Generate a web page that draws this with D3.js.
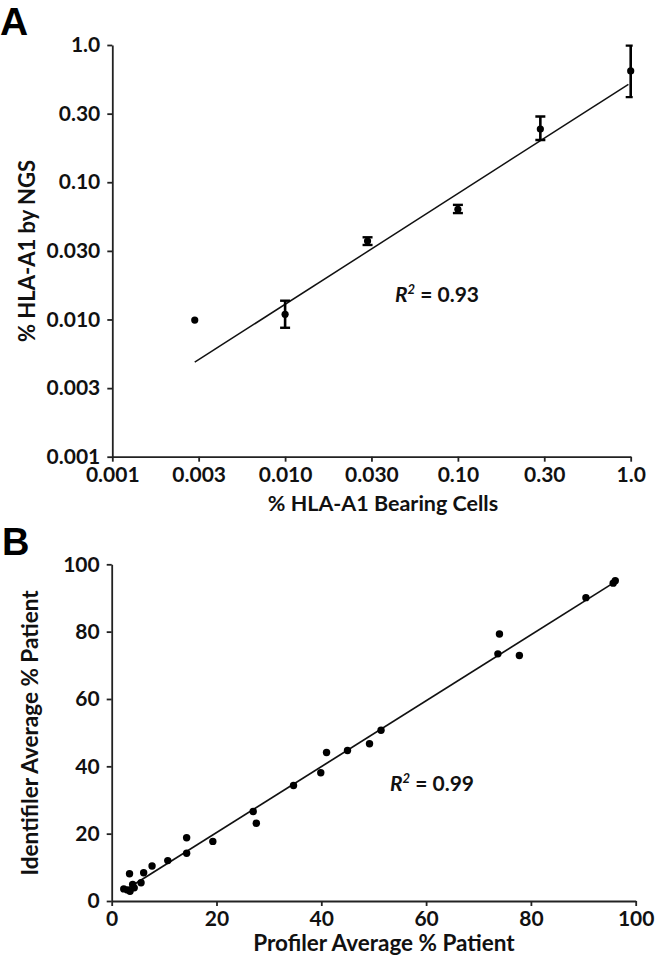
<!DOCTYPE html>
<html>
<head>
<meta charset="utf-8">
<script src="https://cdn.jsdelivr.net/npm/d3@7"></script>
<style>
  html, body { margin: 0; padding: 0; background: #fff; }
  svg { display: block; }
  .lbl { font-family: Lato, "Open Sans", "Liberation Sans", sans-serif; font-weight: 700; fill: #111; }
  .panel { font-family: "Liberation Sans", Arial, sans-serif; font-weight: 700; fill: #000; }
</style>
</head>
<body>
<svg id="chart" width="660" height="957"></svg>
<script>
// ---------------- Panel A data (log-log) ----------------
const aTickValues = [0.001, 0.00316, 0.01, 0.0316, 0.1, 0.316, 1.0];
const aTickLabels = ["0.001", "0.003", "0.010", "0.030", "0.10", "0.30", "1.0"];
const aX      = [0.003, 0.010, 0.030, 0.10, 0.30, 1.0];
const aY      = [0.0099, 0.0109, 0.0373, 0.0635, 0.244, 0.647];
const aErrLow = [null, 0.0087, 0.0349, 0.0596, 0.203, 0.417];
const aErrHigh= [null, 0.0137, 0.0397, 0.0684, 0.301, 0.99];
const aFitX   = [0.003, 0.97];
const aFitY   = [0.00488, 0.517];
const aR2 = "0.93";
const aXTitle = "% HLA-A1 Bearing Cells";
const aYTitle = "% HLA-A1 by NGS";

// ---------------- Panel B data (linear) ----------------
const bTicks = [0, 20, 40, 60, 80, 100];
const bX = [2.3, 3.0, 3.5, 4.0, 4.3, 3.4, 5.6, 6.1, 7.7, 10.7, 14.3, 14.3, 19.3, 27.0, 27.6, 34.7, 39.9, 41.0, 45.0, 49.2, 51.4, 74.0, 73.7, 77.8, 90.5, 95.7, 96.1];
const bY = [3.6, 3.3, 2.9, 4.9, 3.9, 8.1, 5.4, 8.4, 10.4, 12.0, 18.8, 14.2, 17.7, 26.6, 23.1, 34.3, 38.1, 44.1, 44.7, 46.7, 50.7, 79.3, 73.4, 72.9, 90.1, 94.4, 95.1];
const bFitX = [2.5, 96.0];
const bFitY = [3.2, 94.7];
const bR2 = "0.99";
const bXTitle = "Profiler Average % Patient";
const bYTitle = "Identifiler Average % Patient";

const svg = d3.select("#chart");
const axisColor = "#222";

function styleAxis(g) {
  g.selectAll("path.domain").attr("stroke", axisColor).attr("stroke-width", 1.8);
  g.selectAll(".tick line").attr("stroke", axisColor).attr("stroke-width", 1.8);
  g.selectAll(".tick text")
    .attr("class", "lbl")
    .style("font-family", "Lato, 'Open Sans', sans-serif")
    .style("font-weight", "700")
    .style("font-size", "21px")
    .attr("fill", "#111");
}

function r2Label(x, y, val) {
  const t = svg.append("text").attr("class", "lbl").attr("x", x).attr("y", y).style("font-size", "21px");
  t.append("tspan").style("font-style", "italic").text("R");
  t.append("tspan").style("font-style", "italic").style("font-size", "13px").attr("dy", -8).text("2");
  t.append("tspan").attr("dy", 8).text(" = " + val);
}

// ================= Panel A =================
const xA = d3.scaleLog().domain([0.001, 1]).range([112.3, 630.7]);
const yA = d3.scaleLog().domain([0.001, 1]).range([456.7, 45]);

const gAx = svg.append("g").attr("transform", `translate(0,${yA(0.001)})`)
  .call(d3.axisBottom(xA).tickValues(aTickValues).tickFormat((d, i) => aTickLabels[i]).tickSize(5).tickSizeOuter(0).tickPadding(5));
styleAxis(gAx);
gAx.selectAll(".tick text").attr("dy", "0.75em");
const gAy = svg.append("g").attr("transform", `translate(${xA(0.001)},0)`)
  .call(d3.axisLeft(yA).tickValues(aTickValues).tickFormat((d, i) => aTickLabels[i]).tickSize(5).tickSizeOuter(0).tickPadding(7));
styleAxis(gAy);

// fit line
const aFit = aFitX.map((x, i) => [xA(x), yA(aFitY[i])]);
svg.append("path").attr("d", d3.line()(aFit)).attr("stroke", "#111").attr("stroke-width", 1.5).attr("fill", "none");

// error bars (clipped at plot right edge)
svg.append("clipPath").attr("id", "clipA").append("rect")
  .attr("x", xA(0.001)).attr("y", 0).attr("width", xA(1) - xA(0.001) + 2).attr("height", 480);
const eb = svg.append("g").attr("clip-path", "url(#clipA)");
aX.forEach((x, i) => {
  if (aErrLow[i] == null) return;
  const cx = xA(x), y0 = yA(aErrLow[i]), y1 = yA(aErrHigh[i]);
  eb.append("line").attr("x1", cx).attr("x2", cx).attr("y1", y0).attr("y2", y1).attr("stroke", "#000").attr("stroke-width", 2.6);
  [y0, y1].forEach(yy => eb.append("line").attr("x1", cx - 5).attr("x2", cx + 5).attr("y1", yy).attr("y2", yy).attr("stroke", "#000").attr("stroke-width", 2.4));
});
svg.append("g").selectAll("circle").data(aX).join("circle")
  .attr("cx", d => xA(d)).attr("cy", (d, i) => yA(aY[i])).attr("r", 3.6).attr("fill", "#000");

svg.append("text").attr("class", "lbl").attr("x", 383).attr("y", 511).attr("text-anchor", "middle").style("font-size", "21.5px").text(aXTitle);
svg.append("text").attr("class", "lbl").attr("transform", "translate(35,251) rotate(-90)").attr("text-anchor", "middle").style("font-size", "22px").text(aYTitle);
r2Label(395, 302, aR2);
svg.append("text").attr("class", "panel").attr("x", 0).attr("y", 35).style("font-size", "39px").text("A");

// ================= Panel B =================
const xB = d3.scaleLinear().domain([0, 100]).range([111.7, 635.7]);
const yB = d3.scaleLinear().domain([0, 100]).range([901, 564.3]);

const gBx = svg.append("g").attr("transform", `translate(0,${yB(0)})`)
  .call(d3.axisBottom(xB).tickValues(bTicks).tickSize(5).tickSizeOuter(0).tickPadding(5));
styleAxis(gBx);
gBx.selectAll(".tick text").attr("dy", "0.72em");
const gBy = svg.append("g").attr("transform", `translate(${xB(0)},0)`)
  .call(d3.axisLeft(yB).tickValues(bTicks).tickSize(5).tickSizeOuter(0).tickPadding(7));
styleAxis(gBy);

const bFit = bFitX.map((x, i) => [xB(x), yB(bFitY[i])]);
svg.append("path").attr("d", d3.line()(bFit)).attr("stroke", "#111").attr("stroke-width", 1.7).attr("fill", "none");

svg.append("g").selectAll("circle").data(bX).join("circle")
  .attr("cx", d => xB(d)).attr("cy", (d, i) => yB(bY[i])).attr("r", 3.7).attr("fill", "#000");

svg.append("text").attr("class", "lbl").attr("x", 384).attr("y", 951).attr("text-anchor", "middle").style("font-size", "22.5px").text(bXTitle);
svg.append("text").attr("class", "lbl").attr("transform", "translate(38,733) rotate(-90)").attr("text-anchor", "middle").style("font-size", "22.5px").text(bYTitle);
r2Label(390, 791, bR2);
svg.append("text").attr("class", "panel").attr("x", 2).attr("y", 555).style("font-size", "38px").text("B");
</script>
</body>
</html>
